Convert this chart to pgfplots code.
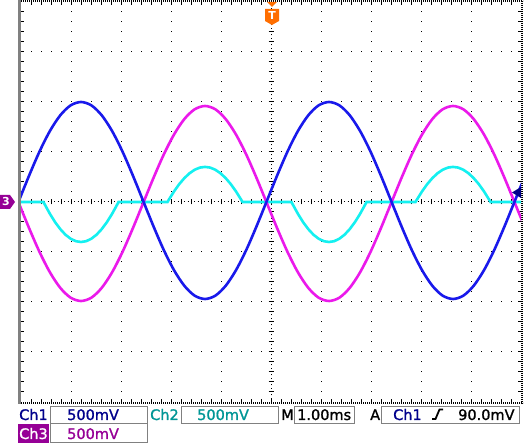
\documentclass[border=0pt]{standalone}
\usepackage{pgfplots}
\pgfplotsset{compat=1.18}
\usepackage{fontspec}
\setmainfont{DejaVu Sans}
\newfontfamily\scopefont[FakeBold=1.2]{DejaVu Sans}
\definecolor{trBlue}{RGB}{25,25,235}
\definecolor{trMag}{RGB}{235,25,235}
\definecolor{trCyan}{RGB}{20,240,240}
\definecolor{navy}{RGB}{0,0,140}
\definecolor{teal2}{RGB}{0,150,150}
\definecolor{purp}{RGB}{150,0,150}
\definecolor{trigOr}{RGB}{255,110,0}
\definecolor{boxgray}{RGB}{128,128,128}
\begin{document}
\begin{tikzpicture}
\begin{scope}[x=1bp,y=1bp]
\path[use as bounding box, fill=white] (0,0) rectangle (528,445);
\fill[boxgray] (18,41) rectangle (21,445);
\draw[black, line width=2bp, dash pattern=on 1bp off 1bp] (21,444) -- (523,444);
\draw[black, line width=2bp, dash pattern=on 1bp off 1bp] (522,444) -- (522,41);
\draw[black, line width=2bp, dash pattern=on 1bp off 1bp] (21,42) -- (523,42);
\foreach \x in {31,41,...,511} {\draw[line width=1bp] (\x,443)--(\x,440); \draw[line width=1bp] (\x,43)--(\x,46);}
\foreach \y in {53,63,...,433} {\draw[line width=1bp] (21,\y)--(24,\y); \draw[line width=1bp] (521,\y)--(518,\y);}
\draw[line width=1bp, dash pattern=on 1bp off 2.333bp] (271,43)--(271,443);
\draw[line width=1bp, dash pattern=on 1bp off 2.333bp] (21,243)--(521,243);
\foreach \y in {53,63,...,433} \draw[line width=1bp] (268.5,\y)--(273.5,\y);
\foreach \x in {31,41,...,511} \draw[line width=1bp] (\x,240.5)--(\x,245.5);
\end{scope}
\begin{axis}[at={(21bp,43bp)}, anchor=south west, scale only axis,
  width=500bp, height=400bp, xmin=-5, xmax=5, ymin=-4, ymax=4,
  axis line style={draw=none}, tick style={draw=none},
  xtick={-4,-3,-2,-1,1,2,3,4}, ytick={-3,-2,-1,1,2,3},
  xticklabels={}, yticklabels={},
  grid=major, grid style={black, line width=1bp, dash pattern=on 1bp off 9bp},
  every axis plot/.append style={line width=2.6bp, no marks}]
\addplot[trCyan] coordinates {
(-5.1,0) (-4.55,0) (-4.5233,-0.052) (-4.42,-0.240) (-4.3167,-0.405) (-4.2133,-0.544) (-4.11,-0.655) (-4.0067,-0.735) (-3.9033,-0.784) (-3.80,-0.800) (-3.6967,-0.784) (-3.5933,-0.735) (-3.49,-0.655) (-3.3867,-0.544) (-3.2833,-0.405) (-3.18,-0.240) (-3.0767,-0.052) (-3.05,0)
(-2.07,0) (-2.0433,0.046) (-1.94,0.211) (-1.8367,0.356) (-1.7333,0.477) (-1.63,0.574) (-1.5267,0.645) (-1.4233,0.688) (-1.32,0.702) (-1.2167,0.688) (-1.1133,0.645) (-1.01,0.574) (-0.9067,0.477) (-0.8033,0.356) (-0.70,0.211) (-0.5967,0.046) (-0.57,0)
(0.41,0) (0.4367,-0.052) (0.54,-0.240) (0.6433,-0.405) (0.7467,-0.544) (0.85,-0.655) (0.9533,-0.735) (1.0567,-0.784) (1.16,-0.800) (1.2633,-0.784) (1.3667,-0.735) (1.47,-0.655) (1.5733,-0.544) (1.6767,-0.405) (1.78,-0.240) (1.8833,-0.052) (1.91,0)
(2.89,0) (2.9167,0.046) (3.02,0.211) (3.1233,0.356) (3.2267,0.477) (3.33,0.574) (3.4333,0.645) (3.5367,0.688) (3.64,0.702) (3.7433,0.688) (3.8467,0.645) (3.95,0.574) (4.0533,0.477) (4.1567,0.356) (4.26,0.211) (4.3633,0.046) (4.39,0) (5.1,0)
};
\addplot[trMag, smooth] coordinates {
(-5.040,-0.030) (-4.833,-0.535) (-4.627,-1.005) (-4.420,-1.409) (-4.213,-1.719) (-4.007,-1.914) (-3.800,-1.980) (-3.593,-1.914) (-3.387,-1.719) (-3.180,-1.409) (-2.973,-1.005) (-2.767,-0.535) (-2.560,-0.030) (-2.353,0.475) (-2.147,0.945) (-1.940,1.349) (-1.733,1.659) (-1.527,1.854) (-1.320,1.920) (-1.113,1.854) (-0.907,1.659) (-0.700,1.349) (-0.493,0.945) (-0.287,0.475) (-0.080,-0.030) (0.127,-0.535) (0.333,-1.005) (0.540,-1.409) (0.747,-1.719) (0.953,-1.914) (1.160,-1.980) (1.367,-1.914) (1.573,-1.719) (1.780,-1.409) (1.987,-1.005) (2.193,-0.535) (2.400,-0.030) (2.607,0.475) (2.813,0.945) (3.020,1.349) (3.227,1.659) (3.433,1.854) (3.640,1.920) (3.847,1.854) (4.053,1.659) (4.260,1.349) (4.467,0.945) (4.673,0.475) (4.880,-0.030) (5.087,-0.535)
};
\addplot[trBlue, smooth] coordinates {
(-5.040,0.030) (-4.833,0.540) (-4.627,1.015) (-4.420,1.423) (-4.213,1.736) (-4.007,1.933) (-3.800,2.000) (-3.593,1.933) (-3.387,1.736) (-3.180,1.423) (-2.973,1.015) (-2.767,0.540) (-2.560,0.030) (-2.353,-0.480) (-2.147,-0.955) (-1.940,-1.363) (-1.733,-1.676) (-1.527,-1.873) (-1.320,-1.940) (-1.113,-1.873) (-0.907,-1.676) (-0.700,-1.363) (-0.493,-0.955) (-0.287,-0.480) (-0.080,0.030) (0.127,0.540) (0.333,1.015) (0.540,1.423) (0.747,1.736) (0.953,1.933) (1.160,2.000) (1.367,1.933) (1.573,1.736) (1.780,1.423) (1.987,1.015) (2.193,0.540) (2.400,0.030) (2.607,-0.480) (2.813,-0.955) (3.020,-1.363) (3.227,-1.676) (3.433,-1.873) (3.640,-1.940) (3.847,-1.873) (4.053,-1.676) (4.260,-1.363) (4.467,-0.955) (4.673,-0.480) (4.880,0.030) (5.087,0.540)
};
\end{axis}
\begin{scope}[x=1bp,y=1bp, txt/.style={anchor=base west, inner sep=0pt, font=\scopefont\fontsize{14.5bp}{17bp}\selectfont}]
\fill[purp] (0,236)--(10,236)--(15,243)--(10,250)--(0,250)--cycle;
\node[white, inner sep=0pt, font=\bfseries\fontsize{11bp}{12bp}\selectfont] at (6,243) {3};
\fill[trigOr] (267,443)--(277,443)--(272,438)--cycle;
\fill[trigOr] (265,436)--(279,436)--(279,424)--(272,420)--(265,424)--cycle;
\node[white, inner sep=0pt, font=\bfseries\fontsize{11bp}{12bp}\selectfont] at (272,429) {T};
\fill[navy] (512,252.5)--(521,258)--(521,247)--cycle;
\draw[boxgray, line width=1bp] (50.5,21.5) rectangle (147.5,38.5);
\draw[boxgray, line width=1bp] (181.5,21.5) rectangle (278.5,38.5);
\draw[boxgray, line width=1bp] (294.5,21.5) rectangle (354.5,38.5);
\draw[boxgray, line width=1bp] (381.5,21.5) rectangle (519.5,38.5);
\draw[boxgray, line width=1bp] (50.5,2.5) rectangle (147.5,21.5);
\fill[purp] (18,2) rectangle (49,21);
\node[txt, text=navy] at (19,25) {Ch1};
\node[txt, text=navy] at (67,25) {500mV};
\node[txt, text=teal2] at (150,25) {Ch2};
\node[txt, text=teal2] at (197,25) {500mV};
\node[txt] at (281,25) {M};
\node[txt] at (297,25) {1.00ms};
\node[txt] at (370,25) {A};
\node[txt, text=navy] at (393,25) {Ch1};
\draw[line width=1.8bp] (432,26)--(435.5,26)--(439.5,35.5)--(443,35.5);
\node[txt] at (458,25) {90.0mV};
\node[txt, text=white] at (19,6) {Ch3};
\node[txt, text=purp] at (67,6) {500mV};
\end{scope}
\end{tikzpicture}
\end{document}
